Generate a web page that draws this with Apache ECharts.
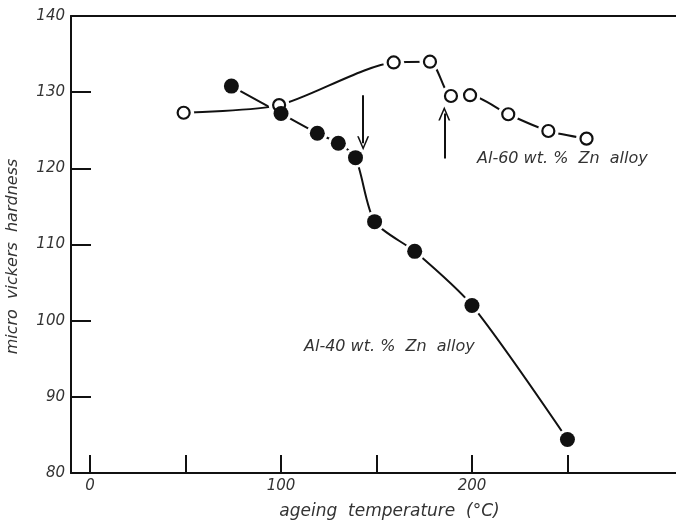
<!DOCTYPE html>
<html>
<head>
<meta charset="utf-8">
<script src="https://cdn.jsdelivr.net/npm/echarts@6/dist/echarts.min.js"></script>
<style>
  html, body { margin: 0; padding: 0; background: #fff; }
  #chart { width: 676px; height: 524px; }
</style>
</head>
<body>
<div id="chart"></div>
<script>
// Al-60wt.% Zn (open circles)
const al60Temp = [49, 99, 159, 178, 189, 199, 219, 240, 260];
const al60Hv = [127.3, 128.3, 133.9, 134.0, 129.5, 129.6, 127.1, 124.9, 123.9];

// Al-40wt.% Zn (filled circles)
const al40Temp = [74, 100, 119, 130, 139, 149, 170, 200, 250];
const al40Hv = [130.8, 127.2, 124.6, 123.3, 121.4, 113.0, 109.1, 102.0, 84.4];

const xTicks = [0, 50, 100, 150, 200, 250];
const xLabels = [0, 100, 200];
const yTicks = [90, 100, 110, 120, 130];

// arrows: [x, yFrom, yTo]
const arrowDown = [143, 129.6, 123.3];
const arrowUp = [185.5, 121.3, 127.2];

const font = "DejaVu Sans";
const ink = "#111";
const textInk = "#333";

const pairs = (xs, ys) => xs.map((x, i) => [x, ys[i]]);

const chart = echarts.init(document.getElementById("chart"));

const chevron = "path://M0,10 L5,0 L10,10 L8.6,10 L5,2.6 L1.4,10 Z";

// 线 + 白色圆遮挡（让线在点附近断开）
const lineSeries = (data) => ({
  type: "line",
  data,
  smooth: 0.25,
  symbol: "circle",
  symbolSize: 21,
  showSymbol: true,
  itemStyle: { color: "#fff", borderWidth: 0, opacity: 1 },
  lineStyle: { color: ink, width: 2 },
  z: 2,
  silent: true,
});

const textStyle = (size) => ({
  fontFamily: font,
  fontStyle: "italic",
  fontWeight: 200,
  fontSize: size,
  color: textInk,
});

chart.setOption({
  animation: false,
  grid: { left: 71, right: -6, top: 16, bottom: 51, outerBoundsMode: "none" },
  xAxis: [
    {
      type: "value",
      min: -10,
      max: 310,
      position: "bottom",
      axisLine: { show: true, onZero: false, lineStyle: { color: ink, width: 2 } },
      axisTick: {
        show: true,
        inside: true,
        length: 18,
        customValues: xTicks,
        lineStyle: { color: ink, width: 2 },
      },
      axisLabel: Object.assign({ customValues: xLabels, margin: 6 }, textStyle(15)),
      splitLine: { show: false },
      name: "ageing  temperature  (°C)",
      nameLocation: "middle",
      nameGap: 30,
      nameTextStyle: Object.assign(textStyle(17), { padding: [0, 0, 0, 26] }),
    },
    {
      type: "value",
      min: -10,
      max: 310,
      position: "top",
      axisLine: { show: true, onZero: false, lineStyle: { color: ink, width: 2 } },
      axisTick: { show: false },
      axisLabel: { show: false },
      splitLine: { show: false },
    },
  ],
  yAxis: {
    type: "value",
    min: 80,
    max: 140,
    interval: 10,
    axisLine: { show: true, onZero: false, lineStyle: { color: ink, width: 2 } },
    axisTick: {
      show: true,
      inside: true,
      length: 20,
      customValues: yTicks,
      lineStyle: { color: ink, width: 2 },
    },
    axisLabel: Object.assign({ margin: 6 }, textStyle(15)),
    splitLine: { show: false },
    name: "micro  vickers  hardness",
    nameLocation: "middle",
    nameGap: 50,
    nameTextStyle: Object.assign(textStyle(16), { padding: [0, 24, 0, 0] }),
  },
  graphic: [
    {
      type: "text",
      left: 477,
      top: 151,
      style: {
        text: "Al-60 wt. %  Zn  alloy",
        font: "italic 200 16px 'DejaVu Sans'",
        fill: textInk,
      },
    },
    {
      type: "text",
      left: 304,
      top: 339,
      style: {
        text: "Al-40 wt. %  Zn  alloy",
        font: "italic 200 16px 'DejaVu Sans'",
        fill: textInk,
      },
    },
  ],
  series: [
    lineSeries(pairs(al60Temp, al60Hv)),
    Object.assign(lineSeries(pairs(al40Temp, al40Hv)), {
      markLine: {
        silent: true,
        symbol: ["none", chevron],
        symbolSize: [12, 14],
        label: { show: false },
        lineStyle: { color: ink, width: 2, type: "solid" },
        data: [
          [
            { coord: [arrowDown[0], arrowDown[1]] },
            { coord: [arrowDown[0], arrowDown[2]] },
          ],
          [
            { coord: [arrowUp[0], arrowUp[1]] },
            { coord: [arrowUp[0], arrowUp[2]] },
          ],
        ],
      },
    }),
    {
      type: "scatter",
      data: pairs(al60Temp, al60Hv),
      symbol: "circle",
      symbolSize: 12,
      itemStyle: { color: "#fff", borderColor: ink, borderWidth: 2.2, opacity: 1 },
      z: 3,
    },
    {
      type: "scatter",
      data: pairs(al40Temp, al40Hv),
      symbol: "circle",
      symbolSize: 15,
      itemStyle: { color: ink, opacity: 1 },
      z: 4,
    },
  ],
});
</script>
</body>
</html>
